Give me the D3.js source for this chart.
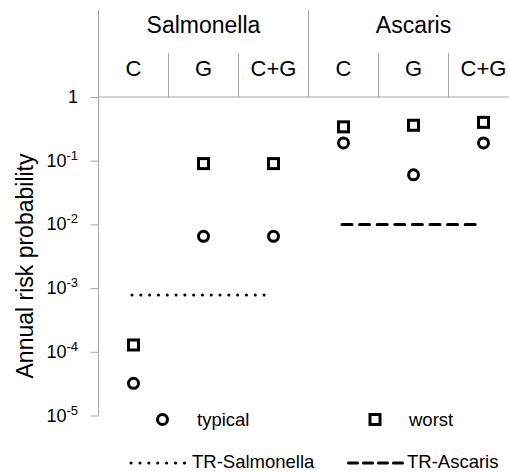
<!DOCTYPE html>
<html>
<head>
<meta charset="utf-8">
<script src="https://cdn.jsdelivr.net/npm/d3@7"></script>
<style>
  body { margin: 0; background: #fff; }
  text { font-family: "Liberation Sans", Arial, sans-serif; fill: #000; }
</style>
</head>
<body>
<svg id="chart" width="509" height="472"></svg>
<script>
// pathogens and treatment scenarios
const groups = ["Salmonella", "Ascaris"];
const scenarios = ["C", "G", "C+G"];

// annual risk per pathogen / scenario, in order Sal C, G, C+G, Asc C, G, C+G
const typical = [3.2e-5, 0.0065, 0.0065, 0.19, 0.06, 0.19];
const worst = [1.28e-4, 0.09, 0.09, 0.34, 0.36, 0.40];

// tolerable risk levels
const thresholds = [
  { name: "TR-Salmonella", group: "Salmonella", value: 7.8e-4 },
  { name: "TR-Ascaris", group: "Ascaris", value: 0.01 }
];

const tickExps = [0, -1, -2, -3, -4, -5];

const svg = d3.select("#chart");
const axisColor = "#a6a6a6";

const plotL = 98.5, plotR = 518.5, plotT = 97, plotB = 415.5;

const cats = [];
groups.forEach(g => scenarios.forEach(s => cats.push(g + "|" + s)));

const x = d3.scaleBand().domain(cats).range([plotL, plotR]);
const gx = d3.scaleBand().domain(groups).range([plotL, plotR]);
const y = d3.scaleLog().domain([1e-5, 1]).range([plotB, plotT]);

// y axis, labels drawn separately for the superscripts
const yAxis = d3.axisLeft(y)
  .tickValues(tickExps.map(e => Math.pow(10, e)))
  .tickSize(8)
  .tickSizeOuter(0)
  .tickFormat("");

const ya = svg.append("g")
  .attr("transform", `translate(${plotL},0)`)
  .call(yAxis);
ya.select(".domain").remove();
ya.selectAll(".tick line").attr("stroke", axisColor).attr("stroke-width", 1);

// axis line runs up through the header
svg.append("line")
  .attr("x1", plotL).attr("x2", plotL)
  .attr("y1", 10).attr("y2", plotB)
  .attr("stroke", axisColor);

// top category axis line
svg.append("line")
  .attr("x1", plotL).attr("x2", plotR)
  .attr("y1", plotT).attr("y2", plotT)
  .attr("stroke", axisColor);

tickExps.forEach(e => {
  const t = svg.append("text")
    .attr("x", 78)
    .attr("y", y(Math.pow(10, e)) + 6)
    .attr("text-anchor", "end")
    .style("font-size", "18px");
  if (e === 0) {
    t.text("1");
  } else {
    t.append("tspan").text("10");
    t.append("tspan").attr("dy", -7).style("font-size", "13px").text(e);
  }
});

// scenario separators and labels
cats.forEach((c, i) => {
  if (i > 0) {
    const isGroupEdge = i % scenarios.length === 0;
    svg.append("line")
      .attr("x1", x(c)).attr("x2", x(c))
      .attr("y1", isGroupEdge ? 10 : 53).attr("y2", plotT)
      .attr("stroke", axisColor);
  }
  svg.append("text")
    .attr("x", x(c) + x.bandwidth() / 2)
    .attr("y", 76)
    .attr("text-anchor", "middle")
    .style("font-size", "22px")
    .text(c.split("|")[1]);
});

groups.forEach(g => {
  svg.append("text")
    .attr("x", gx(g) + gx.bandwidth() / 2)
    .attr("y", 33)
    .attr("text-anchor", "middle")
    .style("font-size", "23px")
    .text(g);
});

// y axis title
svg.append("text")
  .attr("transform", "translate(33,266) rotate(-90)")
  .attr("text-anchor", "middle")
  .style("font-size", "23px")
  .text("Annual risk probability");

// threshold lines
const dashes = { "TR-Salmonella": "0.1 8.7", "TR-Ascaris": "10 7.6" };
const legendDashes = { "TR-Salmonella": "0.1 8.8", "TR-Ascaris": "9 6" };
thresholds.forEach(t => {
  const first = t.group + "|" + scenarios[0];
  const last = t.group + "|" + scenarios[scenarios.length - 1];
  svg.append("line")
    .attr("x1", x(first) + x.bandwidth() / 2 - 1.5)
    .attr("x2", x(last) + x.bandwidth() / 2 - 8)
    .attr("y1", y(t.value)).attr("y2", y(t.value))
    .attr("stroke", "#000")
    .attr("stroke-width", 3)
    .attr("stroke-linecap", "round")
    .attr("stroke-dasharray", dashes[t.name]);
});

// markers
const sq = 10;
svg.append("g").selectAll("rect")
  .data(worst)
  .join("rect")
  .attr("x", (d, i) => x(cats[i]) + x.bandwidth() / 2 - sq / 2)
  .attr("y", d => y(d) - sq / 2)
  .attr("width", sq).attr("height", sq)
  .attr("fill", "none").attr("stroke", "#000").attr("stroke-width", 3);

svg.append("g").selectAll("circle")
  .data(typical)
  .join("circle")
  .attr("cx", (d, i) => x(cats[i]) + x.bandwidth() / 2)
  .attr("cy", d => y(d))
  .attr("r", 5)
  .attr("fill", "none").attr("stroke", "#000").attr("stroke-width", 3);

// legend
const lg = svg.append("g").style("font-size", "18.5px");
lg.append("circle").attr("cx", 162.5).attr("cy", 419.5).attr("r", 5)
  .attr("fill", "none").attr("stroke", "#000").attr("stroke-width", 3);
lg.append("text").attr("x", 197).attr("y", 426).text("typical");
lg.append("rect").attr("x", 370).attr("y", 414.5).attr("width", sq).attr("height", sq)
  .attr("fill", "none").attr("stroke", "#000").attr("stroke-width", 3);
lg.append("text").attr("x", 409).attr("y", 426).text("worst");

lg.append("line").attr("x1", 131).attr("x2", 185).attr("y1", 463).attr("y2", 463)
  .attr("stroke", "#000").attr("stroke-width", 3).attr("stroke-linecap", "round")
  .attr("stroke-dasharray", legendDashes["TR-Salmonella"]);
lg.append("text").attr("x", 192).attr("y", 468).text(thresholds[0].name);
lg.append("line").attr("x1", 348.5).attr("x2", 403).attr("y1", 463).attr("y2", 463)
  .attr("stroke", "#000").attr("stroke-width", 3).attr("stroke-linecap", "round")
  .attr("stroke-dasharray", legendDashes["TR-Ascaris"]);
lg.append("text").attr("x", 407).attr("y", 468).text(thresholds[1].name);
</script>
</body>
</html>
